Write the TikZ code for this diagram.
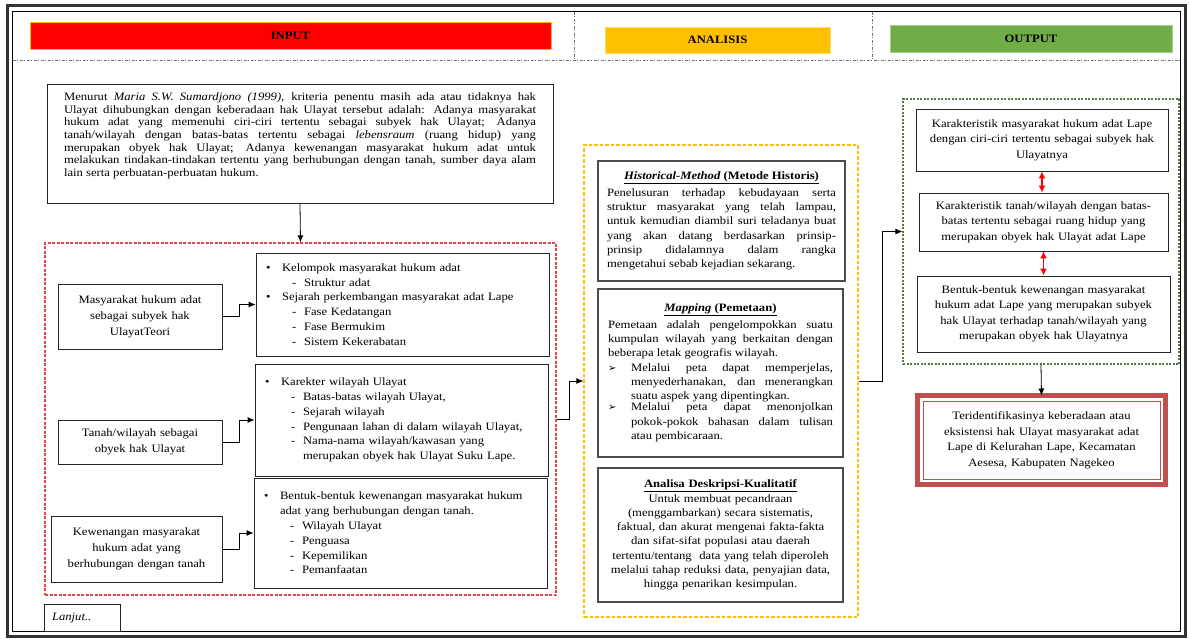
\documentclass[tikz,border=0pt]{standalone}
\usepackage{fontspec}
\setmainfont{Liberation Serif}[FakeStretch=1.12]
\newfontfamily\simbol{DejaVu Sans}
\usepackage{xcolor}
\usepackage{tikz}
\usetikzlibrary{arrows.meta}
\definecolor{cMerah}{HTML}{FF0000}
\definecolor{cKuning}{HTML}{FFC000}
\definecolor{cKuningMuda}{HTML}{FFD966}
\definecolor{cHijau}{HTML}{70AD47}
\definecolor{cHijauMuda}{HTML}{A9D18E}
\definecolor{cHijauTua}{HTML}{55793F}
\definecolor{cGarisMerah}{HTML}{E04848}
\definecolor{cBata}{HTML}{C0504D}
\hyphenpenalty=10000
\tolerance=9999
% butir daftar
\newcommand{\titik}[1]{\makebox[18pt][l]{\hspace{2pt}\textbullet}#1}
\newcommand{\strippoin}[1]{\hspace*{28pt}\makebox[12pt][l]{-}#1}
\newcommand{\panahpoin}[1]{\noindent\makebox[23pt][l]{{\simbol\fontsize{10}{10}\selectfont ➢}}%
  \parbox[t]{\dimexpr\hsize-23pt\relax}{#1}\par}

\begin{document}
\begin{tikzpicture}[
  x=1pt,y=1pt,
  font=\fontsize{11.3}{14.6}\selectfont,
  kotak/.style={draw=black!85,line width=0.8pt,fill=white,align=center,inner sep=0pt},
  daftar/.style={kotak,align=left,font=\fontsize{11.3}{14.8}\selectfont},
  teori/.style={kotak,font=\fontsize{11.3}{16}\selectfont},
  metode/.style={draw=black!70,line width=1.1pt,fill=white,align=justify,inner sep=0pt,
                 font=\fontsize{11.3}{14.3}\selectfont},
  hasil/.style={kotak,font=\fontsize{11.3}{15.5}\selectfont},
  kepala/.style={inner sep=0pt,font=\fontsize{11.3}{13}\selectfont\bfseries,line width=0.8pt},
  wadah/.style={line width=1.2pt,inner sep=0pt},
  pisah/.style={draw=black!55,line width=0.9pt,dash pattern=on 3pt off 1.5pt on 1pt off 1.5pt},
  panah/.style={-{Latex[length=7pt,width=6pt]},line width=0.8pt},
  panahmerah/.style={{Latex[length=7pt,width=7pt]}-{Latex[length=7pt,width=7pt]},draw=red,fill=red,line width=1.3pt}
]
\useasboundingbox (0,0) rectangle (1189,-638);

% ---- bingkai
\draw[line width=3pt,black!80] (7,-5) rectangle (1185,-636);
\draw[line width=1pt] (12.5,-11.5) rectangle (1180,-631);
\draw[pisah] (12.5,-60) -- (1180,-60);
\draw[pisah] (574,-11.5) -- (574,-60);
\draw[pisah] (872,-11.5) -- (872,-60);

% ---- kepala kolom
\node[kepala,fill=cMerah,draw=cKuning,minimum width=521,minimum height=27] (hInput) at (290.5,-36) {INPUT};
\node[kepala,fill=cKuning,draw=cKuningMuda,minimum width=225,minimum height=26] (hAnalisis) at (717.5,-40) {ANALISIS};
\node[kepala,fill=cHijau,draw=cHijauMuda,minimum width=282,minimum height=27] (hOutput) at (1031,-39) {OUTPUT};

% ---- input
\node[kotak,align=justify,anchor=north,minimum width=506,text width=472,inner ysep=6pt,
      text height=10pt,text depth=97pt,font=\fontsize{11.3}{12.7}\selectfont] (utama) at (300,-84)
  {Menurut \textit{Maria S.W. Sumardjono (1999),} kriteria penentu masih ada atau tidaknya hak\linebreak
   Ulayat dihubungkan dengan keberadaan hak Ulayat tersebut adalah: Adanya masyarakat\linebreak
   hukum adat yang memenuhi ciri-ciri tertentu sebagai subyek hak Ulayat; Adanya\linebreak
   tanah/wilayah dengan batas-batas tertentu sebagai \textit{lebensraum} (ruang hidup) yang\linebreak
   merupakan obyek hak Ulayat; Adanya kewenangan masyarakat hukum adat untuk\linebreak
   melakukan tindakan-tindakan tertentu yang berhubungan dengan tanah, sumber daya alam\linebreak
   lain serta perbuatan-perbuatan hukum.};

\node[wadah,draw=cGarisMerah,dash pattern=on 3pt off 1.5pt,minimum width=511,minimum height=352] (merah) at (300.5,-419) {};

\node[teori,minimum width=164,minimum height=65,text width=150] (kiri1) at (140,-316.5)
  {Masyarakat hukum adat\\ sebagai subyek hak\\ UlayatTeori};
\node[teori,minimum width=164,minimum height=44,text width=150] (kiri2) at (140,-442)
  {Tanah/wilayah sebagai\\ obyek hak Ulayat};
\node[teori,minimum width=171,minimum height=66,text width=162] (kiri3) at (136.5,-549)
  {Kewenangan masyarakat\\ hukum adat yang\\ berhubungan dengan tanah};

\node[daftar,minimum width=293,minimum height=103,text width=277] (kanan1) at (402.5,-304.5)
  {\titik{Kelompok masyarakat hukum adat}\\
   \strippoin{Struktur adat}\\
   \titik{Sejarah perkembangan masyarakat adat Lape}\\
   \strippoin{Fase Kedatangan}\\
   \strippoin{Fase Bermukim}\\
   \strippoin{Sistem Kekerabatan}};
\node[daftar,minimum width=293,minimum height=112,text width=277] (kanan2) at (401.5,-420)
  {\titik{Karekter wilayah Ulayat}\\
   \strippoin{Batas-batas wilayah Ulayat,}\\
   \strippoin{Sejarah wilayah}\\
   \strippoin{Pengunaan lahan di dalam wilayah Ulayat,}\\
   \strippoin{Nama-nama wilayah/kawasan yang}\\
   \hspace*{40pt}merupakan obyek hak Ulayat Suku Lape.};
\node[daftar,minimum width=293,minimum height=110,text width=277] (kanan3) at (400.5,-533)
  {\titik{Bentuk-bentuk kewenangan masyarakat hukum}\\
   \hspace*{18pt}adat yang berhubungan dengan tanah.\\
   \strippoin{Wilayah Ulayat}\\
   \strippoin{Penguasa}\\
   \strippoin{Kepemilikan}\\
   \strippoin{Pemanfaatan}};

\node[kotak,minimum width=76,minimum height=27,text width=60,align=left] (lanjut) at (82,-617.5) {\textit{Lanjut..}};

% ---- analisis
\node[wadah,draw=cKuning,dash pattern=on 3.5pt off 2pt,minimum width=274,minimum height=472] (kuning) at (721,-381) {};

\node[metode,minimum width=247,minimum height=120,text width=229] (analisa1) at (721.5,-221)
  {{\centering\underline{\textbf{\textit{Historical-Method} (Metode Historis)}}\par}\vspace{2pt}
   Penelusuran terhadap kebudayaan serta\linebreak
   struktur masyarakat yang telah lampau,\linebreak
   untuk kemudian diambil suri teladanya buat\linebreak
   yang akan datang berdasarkan prinsip-\linebreak
   prinsip didalamnya dalam rangka\linebreak
   mengetahui sebab kejadian sekarang.};
\node[metode,minimum width=245,minimum height=168,text width=225] (analisa2) at (720.5,-373)
  {{\centering\underline{\textbf{\textit{Mapping} (Pemetaan)}}\par}\vspace{2pt}
   Pemetaan adalah pengelompokkan suatu\linebreak
   kumpulan wilayah yang berkaitan dengan\linebreak
   beberapa letak geografis wilayah.\par
   \panahpoin{Melalui peta dapat memperjelas,\linebreak
     menyederhanakan, dan menerangkan\linebreak
     suatu aspek yang dipentingkan.}
   \panahpoin{Melalui peta dapat menonjolkan\linebreak
     pokok-pokok bahasan dalam tulisan\linebreak
     atau pembicaraan.}};
\node[metode,align=center,minimum width=245,minimum height=134,text width=225] (analisa3) at (720.5,-535)
  {\underline{\textbf{Analisa Deskripsi-Kualitatif}}\\
   Untuk membuat pecandraan\\
   (menggambarkan) secara sistematis,\\
   faktual, dan akurat mengenai fakta-fakta\\
   dan sifat-sifat populasi atau daerah\\
   tertentu/tentang\ \ data yang telah diperoleh\\
   melalui tahap reduksi data, penyajian data,\\
   hingga penarikan kesimpulan.};

% ---- output
\node[wadah,draw=cHijauTua,dash pattern=on 2pt off 1.5pt,minimum width=276,minimum height=265] (hijau) at (1041,-231.5) {};

\node[hasil,minimum width=252,minimum height=62,text width=240] (o1) at (1042,-140)
  {Karakteristik masyarakat hukum adat Lape\\ dengan ciri-ciri tertentu sebagai subyek hak\\ Ulayatnya};
\node[hasil,minimum width=249,minimum height=58,text width=240] (o2) at (1043.5,-222)
  {Karakteristik tanah/wilayah dengan batas-\\ batas tertentu sebagai ruang hidup yang\\ merupakan obyek hak Ulayat adat Lape};
\node[hasil,minimum width=253,minimum height=76,text width=240] (o3) at (1043.5,-314)
  {Bentuk-bentuk kewenangan masyarakat\\ hukum adat Lape yang merupakan subyek\\ hak Ulayat terhadap tanah/wilayah yang\\ merupakan obyek hak Ulayatnya};

\node[hasil,draw=cBata,line width=4.5pt,outer sep=0pt,minimum width=248,minimum height=89,text width=230] (akhir) at (1041.5,-440)
  {Teridentifikasinya keberadaan atau\\ eksistensi hak Ulayat masyarakat adat\\ Lape di Kelurahan Lape, Kecamatan\\ Aesesa, Kabupaten Nagekeo};
\draw[cBata,line width=0.8pt] ([shift={(5.5,-5.5)}]akhir.north west) rectangle ([shift={(-5.5,5.5)}]akhir.south east);

% ---- panah
\draw[panah] (utama.south) -- (merah.north);
\draw[panah] (kiri1.east) -- ++(17,0) |- (kanan1.west);
\draw[panah] (kiri2.east) -- ++(17,0) |- (kanan2.west);
\draw[panah] (kiri3.east) -- ++(17,0) |- (kanan3.west);
\draw[panah] (merah.east) -- ++(13,0) |- (kuning.west);
\draw[panah] (kuning.east) -- ++(24,0) |- (hijau.west);
\draw[panahmerah] (o1.south) -- (o1.south |- o2.north);
\draw[panahmerah] (o2.south) -- (o2.south |- o3.north);
\draw[panah] (hijau.south) -- (akhir.north);
\end{tikzpicture}
\end{document}
